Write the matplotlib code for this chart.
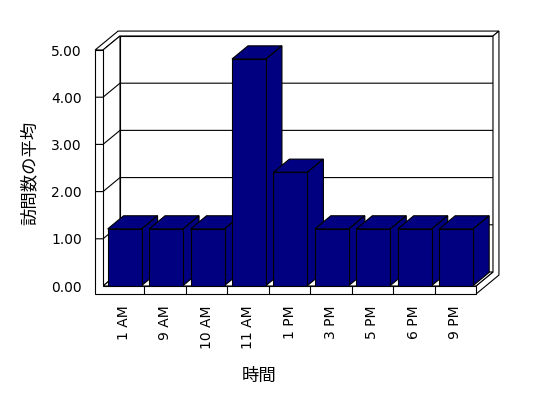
import matplotlib
matplotlib.use('Agg')
import matplotlib.pyplot as plt
from matplotlib.patches import Polygon

plt.rcParams['font.family'] = ['DejaVu Sans', 'Noto Sans CJK JP']

hours = ['1 AM', '9 AM', '10 AM', '11 AM', '1 PM', '3 PM', '5 PM', '6 PM', '9 PM']
avg_visits = [1.2, 1.2, 1.2, 4.8, 2.4, 1.2, 1.2, 1.2, 1.2]
y_ticks = [0, 1, 2, 3, 4, 5]
y_labels = ['%.2f' % v for v in y_ticks]

bar_color = '#000080'
n = len(hours)
ymax = y_ticks[-1]

# fake 3d: depth z (0 = front, 1 = back wall) moves points right and up
DX, DY = 0.41, 0.297
WALL, FLOOR, BACK = 0.19, 0.17, 0.35


def proj(x, v, z):
    return (x + z * DX, v + z * DY)


fig = plt.figure(figsize=(5.48, 3.98), dpi=100)
ax = fig.add_axes([103 / 548, 112 / 398, 373 / 548, 236 / 398])
ax.set_xlim(0, n)
ax.set_ylim(0, ymax)


def face(pts, fc='white', z=1):
    ax.add_patch(Polygon([proj(*p) for p in pts], closed=True, fc=fc, ec='black',
                         lw=0.8, clip_on=False, zorder=z))


def line(pts, z=2):
    xs, ys = zip(*[proj(*p) for p in pts])
    ax.plot(xs, ys, color='black', lw=0.8, clip_on=False, zorder=z, solid_capstyle='butt')


# walls and floor
face([(0, 0, 1), (n, 0, 1), (n, ymax, 1), (0, ymax, 1)])
face([(-WALL, ymax, 0), (0, ymax, 0), (0, ymax, 1), (n, ymax, 1),
      (n, ymax, 1 + BACK), (-WALL, ymax, 1 + BACK)])
face([(n, -FLOOR, 0), (n, 0, 0), (n, 0, 1), (n, ymax, 1),
      (n, ymax, 1 + BACK), (n, -FLOOR, 1 + BACK)])
face([(0, 0, 0), (0, 0, 1), (0, ymax, 1), (0, ymax, 0)])
face([(0, 0, 0), (n, 0, 0), (n, 0, 1), (0, 0, 1)])
face([(-WALL, -FLOOR, 0), (n, -FLOOR, 0), (n, 0, 0), (0, 0, 0),
      (0, ymax, 0), (-WALL, ymax, 0)])

# gridlines on the walls
for v in y_ticks[1:-1]:
    line([(-WALL, v, 0), (0, v, 0), (0, v, 1), (n, v, 1)])

# category ticks on the floor edge
for i in range(1, n):
    line([(i, -FLOOR, 0), (i, 0, 0)])

# bars
w, z0, z1 = 0.82, 0.03, 0.97
lefts = [i + 0.1 for i in range(n)]
bars = ax.bar([x + z0 * DX for x in lefts], avg_visits, width=w, bottom=z0 * DY,
              align='edge', color=bar_color, edgecolor='black', linewidth=0.8)
for i, (x0, val) in enumerate(zip(lefts, avg_visits)):
    face([(x0, val, z0), (x0 + w, val, z0), (x0 + w, val, z1), (x0, val, z1)],
         fc=bar_color, z=10 + 2 * i)
    face([(x0 + w, 0, z0), (x0 + w, val, z0), (x0 + w, val, z1), (x0 + w, 0, z1)],
         fc=bar_color, z=10 + 2 * i)
    bars[i].set_zorder(11 + 2 * i)

ax.set_xticks([i + 0.5 for i in range(n)], hours, rotation=90, fontsize=10)
ax.set_yticks(y_ticks, y_labels, fontsize=10)
ax.tick_params(axis='x', length=0, pad=13.7)
ax.tick_params(axis='y', length=0, pad=15.1)
for s in ax.spines.values():
    s.set_visible(False)
ax.patch.set_visible(False)

ax.set_xlabel('時間', fontsize=12.5, va='center')
ax.xaxis.set_label_coords(0.418, -0.381)
ax.set_ylabel('訪問数の平均', fontsize=12.5, va='center')
ax.yaxis.set_label_coords(-0.196, 0.479)

fig.savefig('out.png', dpi=100)
